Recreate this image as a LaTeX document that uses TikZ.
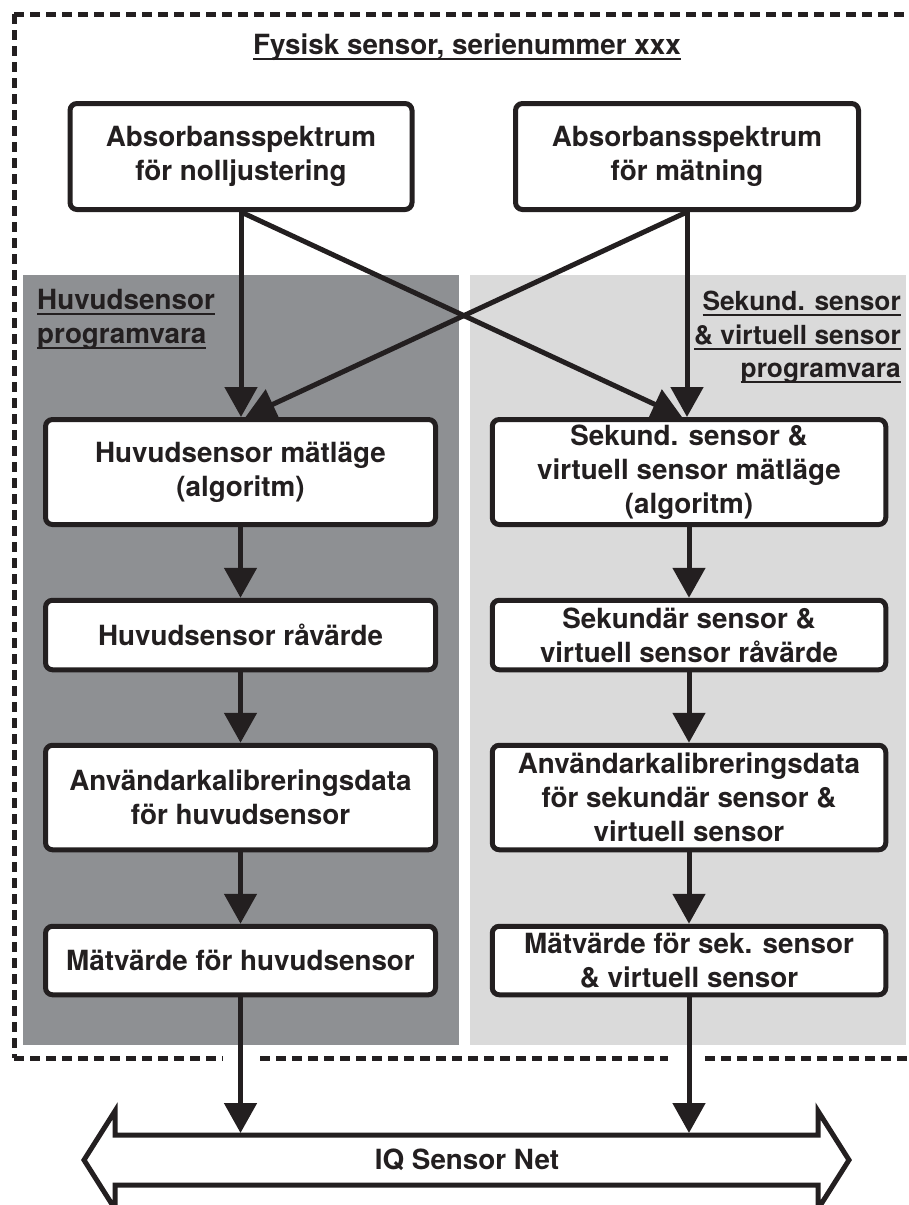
\documentclass[tikz,border=0pt]{standalone}
\usepackage{fontspec}
\setmainfont{TeX Gyre Heros}
\usetikzlibrary{arrows.meta,calc}
\definecolor{ink}{HTML}{231F20}
\definecolor{darkpanel}{HTML}{8E9093}
\definecolor{lightpanel}{HTML}{DADADA}
\newcommand{\myul}[1]{\setbox0\hbox{#1}\rlap{\rule[-5.5pt]{\wd0}{2pt}}\box0}
\newcommand{\dgfont}{\fontsize{27.8}{34}\selectfont\bfseries}
\newcommand{\rlfont}{\fontsize{26.3}{34}\selectfont\bfseries}
\begin{document}
\begin{tikzpicture}[x=1pt,y=-1pt,
  box/.style={draw=ink, line width=5pt, rounded corners=7pt, fill=white,
    align=center, text=ink, font=\dgfont, inner sep=0pt},
  arr/.style={draw=ink, line width=5pt, -{Triangle[length=30pt,width=32pt]}},
  frame/.style={draw=ink, line width=5pt, dash pattern=on 10pt off 6pt},
  lbl/.style={text=ink, font=\dgfont, inner sep=0pt}]
\useasboundingbox (0,0) rectangle (908,1205);
% panels
\fill[darkpanel] (23,275) rectangle (459,1045);
\fill[lightpanel] (470,275) rectangle (906,1045);
% dashed frame
\draw[frame] (14,14) -- (908,14);
\draw[frame] (14,14) -- (14,1058);
\draw[frame] (14,1058) -- (223,1058);
\draw[frame] (260,1058) -- (668,1058);
\draw[frame] (705,1058) -- (908,1058);
% labels
\node[lbl, anchor=base] (title) at (467,54) {\myul{Fysisk sensor, serienummer xxx}};
\node[lbl, anchor=base west] (hl1) at (37,309) {\myul{Huvudsensor}};
\node[lbl, anchor=base west] (hl2) at (37,343) {\myul{programvara}};
\node[lbl, font=\rlfont, anchor=base east] (sl1) at (901,310) {\myul{Sekund. sensor}};
\node[lbl, font=\rlfont, anchor=base east] (sl2) at (901,344) {\myul{\& virtuell sensor}};
\node[lbl, font=\rlfont, anchor=base east] (sl3) at (901,377) {\myul{programvara}};
% boxes
\node[box, minimum width=342pt, minimum height=106pt] (n1) at (241,156.5) {Absorbansspektrum\\för nolljustering};
\node[box, minimum width=343pt, minimum height=106pt] (n2) at (687,156.5) {Absorbansspektrum\\för mätning};
\node[box, minimum width=390pt, minimum height=105pt] (l1) at (240.5,472) {Huvudsensor mätläge\\(algoritm)};
\node[box, minimum width=390pt, minimum height=69.5pt] (l2) at (240.5,635) {Huvudsensor råvärde};
\node[box, minimum width=390pt, minimum height=104.5pt] (l3) at (240.5,797.5) {Användarkalibreringsdata\\för huvudsensor};
\node[box, minimum width=390pt, minimum height=68.5pt] (l4) at (240.5,960.5) {Mätvärde för huvudsensor};
\node[box, minimum width=393.5pt, minimum height=105pt] (r1) at (689,472) {Sekund. sensor \&\\virtuell sensor mätläge\\(algoritm)};
\node[box, minimum width=393.5pt, minimum height=69.5pt] (r2) at (689,635) {Sekundär sensor \&\\virtuell sensor råvärde};
\node[box, minimum width=393.5pt, minimum height=104.5pt] (r3) at (689,797.5) {Användarkalibreringsdata\\för sekundär sensor \&\\virtuell sensor};
\node[box, minimum width=393.5pt, minimum height=68.5pt] (r4) at (689,960.5) {Mätvärde för sek. sensor\\\& virtuell sensor};
% bus
\draw[ink, line width=5pt, fill=white, miter limit=10]
  (84,1160) -- (115,1111) -- (115,1135) -- (818,1135) -- (818,1111) -- (849,1160)
  -- (818,1209) -- (818,1185) -- (115,1185) -- (115,1209) -- cycle;
\node[lbl] (bus) at (467,1160) {IQ Sensor Net};
\coordinate (bustop) at (0,1133);
% connectors
\draw[arr] (n1.south) -- (n1.south |- l1.north);
\draw[arr] (n2.south) -- (n2.south |- r1.north);
\draw[arr] (n1.south) -- ([xshift=-7pt]r1.north);
\draw[arr] (n2.south) -- ([xshift=5pt]l1.north);
\draw[arr] (l1.south) -- (l2.north);
\draw[arr] (l2.south) -- (l3.north);
\draw[arr] (l3.south) -- (l4.north);
\draw[arr] (r1.south) -- (r2.north);
\draw[arr] (r2.south) -- (r3.north);
\draw[arr] (r3.south) -- (r4.north);
\draw[arr] (l4.south) -- (l4.south |- bustop);
\draw[arr] (r4.south) -- (r4.south |- bustop);
\end{tikzpicture}
\end{document}
